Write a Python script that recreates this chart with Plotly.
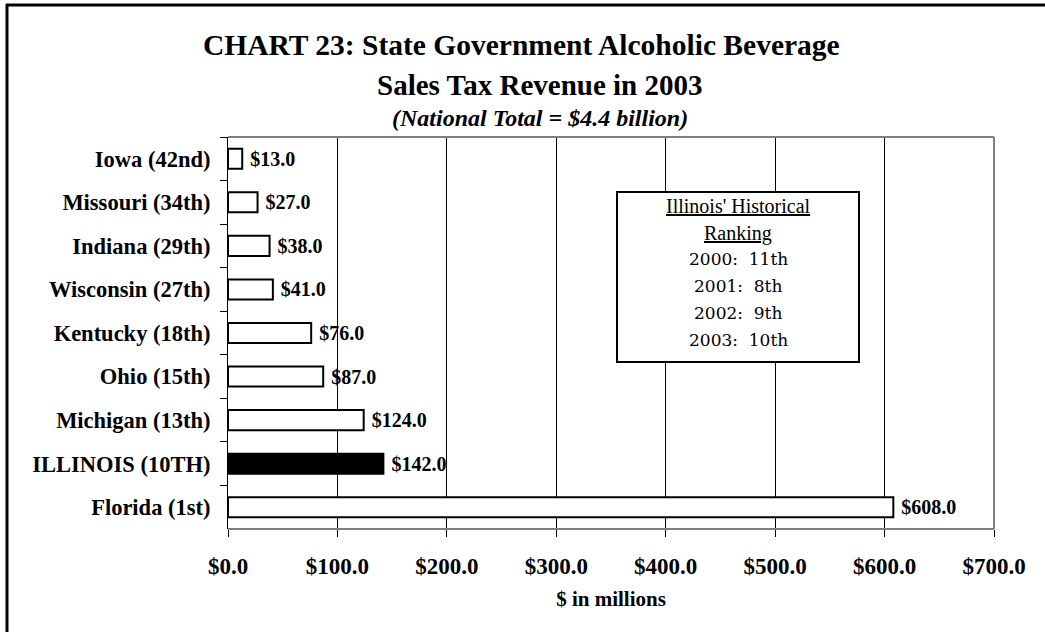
import plotly.graph_objects as go

# Data: state alcoholic beverage sales tax revenue, 2003 ($ millions)
states = ["Iowa (42nd)", "Missouri (34th)", "Indiana (29th)", "Wisconsin (27th)",
          "Kentucky (18th)", "Ohio (15th)", "Michigan (13th)", "ILLINOIS (10TH)",
          "Florida (1st)"]
revenue = [13.0, 27.0, 38.0, 41.0, 76.0, 87.0, 124.0, 142.0, 608.0]
highlight = "ILLINOIS (10TH)"

x_ticks = [0, 100, 200, 300, 400, 500, 600, 700]
x_tick_labels = [f"${v:.1f}" for v in x_ticks]
history_title = ["Illinois' Historical", "Ranking"]
history_rows = ["2000:  11th", "2001:  8th", "2002:  9th", "2003:  10th"]

W, H = 1045, 632
L, R, T, B = 228, 994, 137, 529          # plot area in pixels
SERIF = "Liberation Serif"


def px_x(p):
    """pixel x -> paper x"""
    return (p - L) / (R - L)


def px_y(p):
    """pixel y -> paper y"""
    return (B - p) / (B - T)


fills = ["black" if s == highlight else "white" for s in states]

fig = go.Figure()
fig.add_trace(go.Bar(
    x=revenue, y=states, orientation="h",
    marker=dict(color=fills, line=dict(color="black", width=2)),
    texttemplate=" $%{x:.1f}", textposition="outside",
    textfont=dict(family=SERIF, size=20, color="black", weight="bold"),
    constraintext="none", cliponaxis=False, hoverinfo="skip",
))

fig.update_layout(
    width=W, height=H,
    margin=dict(l=L, r=W - R, t=T, b=H - B),
    paper_bgcolor="white", plot_bgcolor="white",
    bargap=0.54, showlegend=False,
    font=dict(family=SERIF, color="black"),
    xaxis=dict(
        range=[0, 700], tickvals=x_ticks, ticktext=x_tick_labels,
        showgrid=True, gridcolor="black", gridwidth=1,
        ticks="outside", ticklen=7, tickcolor="black", tickwidth=1,
        tickfont=dict(family=SERIF, size=23, color="black", weight="bold"),
        ticklabelstandoff=9, zeroline=False, showline=False,
        title=dict(text="$ in millions", standoff=13,
                   font=dict(family=SERIF, size=21, color="black", weight="bold")),
    ),
    yaxis=dict(
        autorange="reversed", showgrid=False, zeroline=False,
        showline=True, linecolor="black", linewidth=1,
        ticks="outside", tickson="boundaries", ticklen=7, tickcolor="black",
        tickfont=dict(family=SERIF, size=22.5, color="black", weight="bold"),
        ticklabelstandoff=12,
    ),
)

shapes = [
    # plot frame (top, right, bottom) in grey
    dict(type="line", xref="paper", yref="paper", x0=0, x1=1, y0=1, y1=1,
         line=dict(color="#808080", width=2), layer="above"),
    dict(type="line", xref="paper", yref="paper", x0=1, x1=1, y0=0, y1=1,
         line=dict(color="#808080", width=2), layer="above"),
    dict(type="line", xref="paper", yref="paper", x0=0, x1=1, y0=0, y1=0,
         line=dict(color="#808080", width=2), layer="above"),
    # outer page frame (top and left edges)
    dict(type="line", xref="paper", yref="paper", x0=px_x(6), x1=px_x(W),
         y0=px_y(5), y1=px_y(5), line=dict(color="black", width=3)),
    dict(type="line", xref="paper", yref="paper", x0=px_x(7), x1=px_x(7),
         y0=px_y(4), y1=px_y(H), line=dict(color="black", width=3)),
    # historical ranking box
    dict(type="rect", xref="paper", yref="paper", x0=px_x(617), x1=px_x(859),
         y0=px_y(362), y1=px_y(192), line=dict(color="black", width=2),
         fillcolor="white", layer="above"),
]
fig.update_layout(shapes=shapes)

annotations = [
    dict(text="<b>CHART 23: State Government Alcoholic Beverage</b>",
         x=px_x(521), y=px_y(45), font=dict(size=29.5)),
    dict(text="<b>Sales Tax Revenue in 2003</b>",
         x=px_x(540), y=px_y(85), font=dict(size=29)),
    dict(text="<b><i>(National Total = $4.4 billion)</i></b>",
         x=px_x(540), y=px_y(118), font=dict(size=24)),
]
box_cx = px_x(738)
for i, line in enumerate(history_title):
    annotations.append(dict(text=f"<u>{line}</u>", x=box_cx, y=px_y(206 + 27 * i),
                            font=dict(size=20)))
for i, line in enumerate(history_rows):
    annotations.append(dict(text=line, x=box_cx, y=px_y(259 + 27 * i),
                            font=dict(size=17, family="DejaVu Serif")))
for a in annotations:
    a.update(xref="paper", yref="paper", showarrow=False,
             xanchor="center", yanchor="middle")
    a["font"].setdefault("family", SERIF)
    a["font"]["color"] = "black"
fig.update_layout(annotations=annotations)

fig.write_html("out.html", config={"displayModeBar": False})
